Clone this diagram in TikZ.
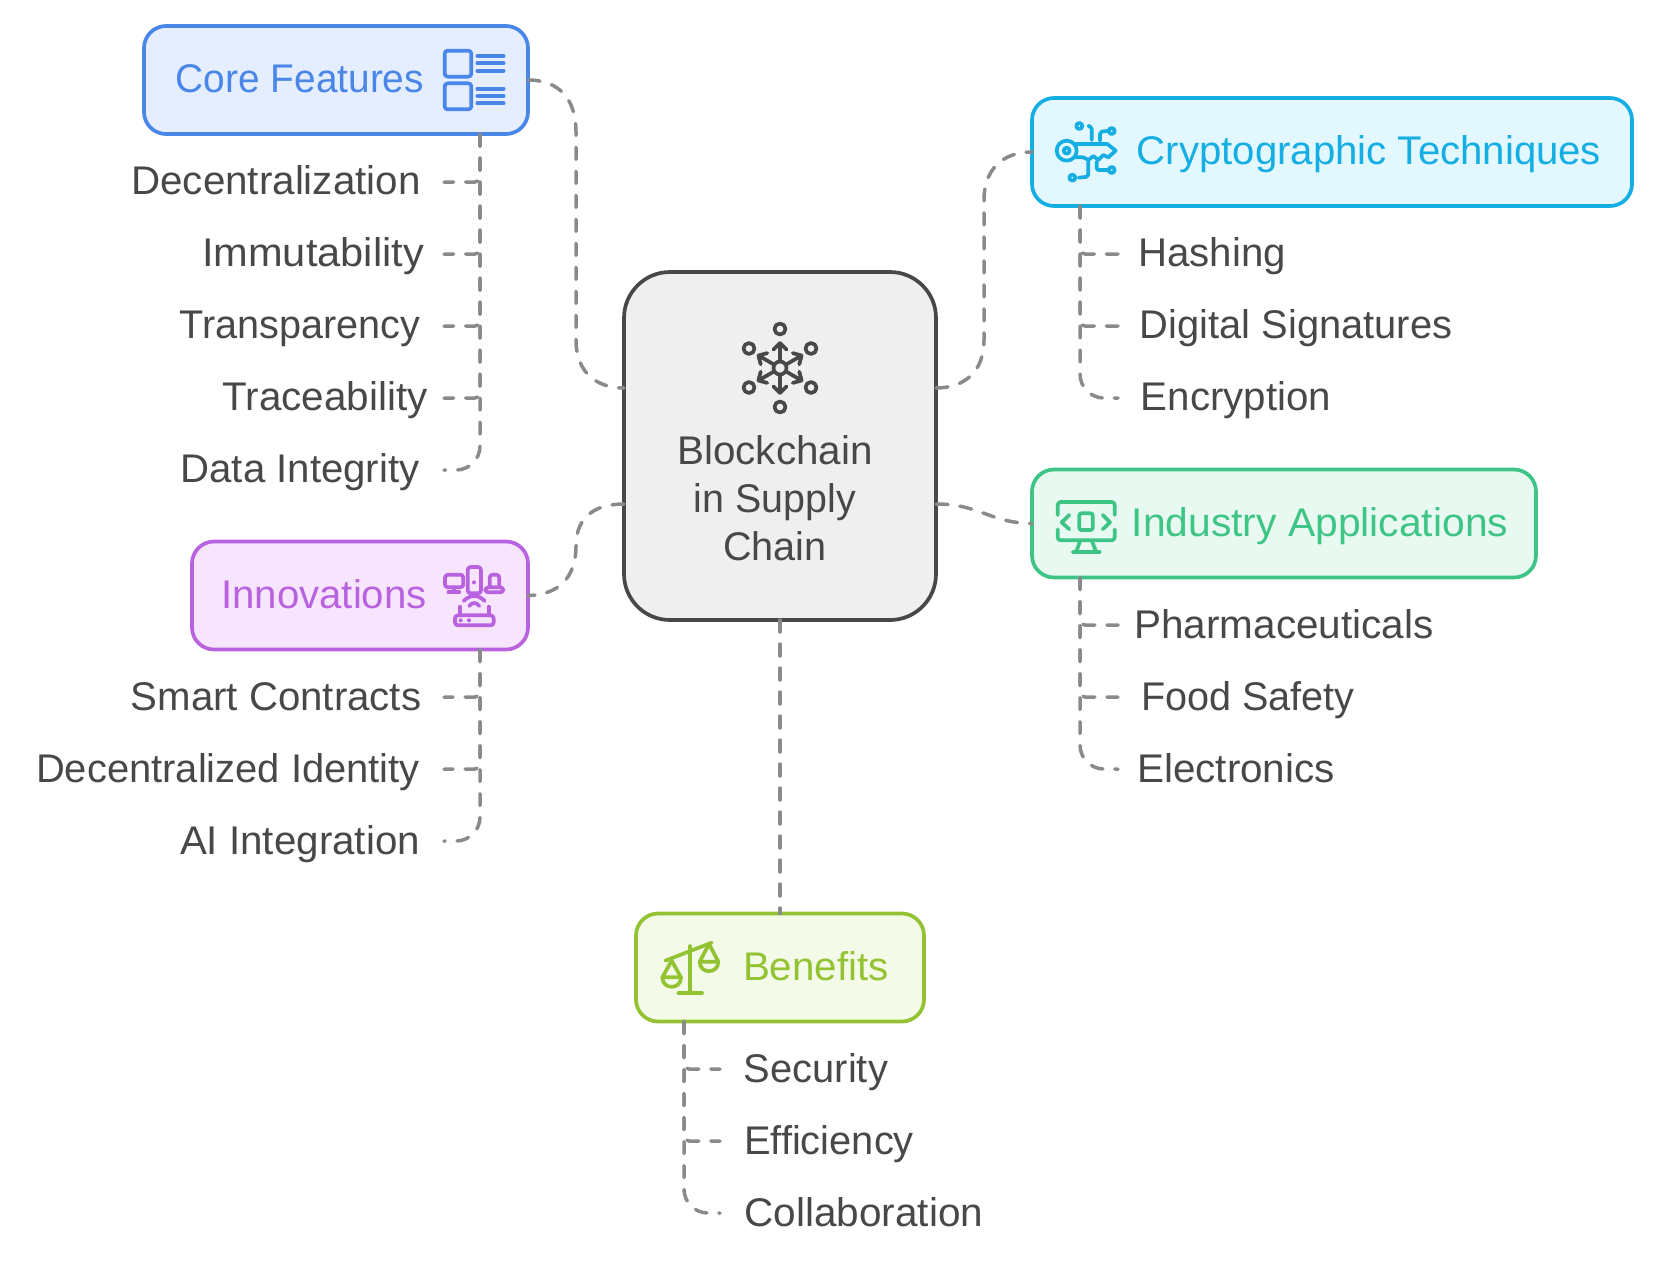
\documentclass[tikz,border=0pt]{standalone}
\usepackage{fontspec}
\setmainfont[FakeStretch=0.99]{Liberation Sans}
\usetikzlibrary{calc}
\definecolor{inkc}{HTML}{484848}
\definecolor{linec}{HTML}{8A8A8A}
\definecolor{centerfill}{HTML}{EFEFEF}
\definecolor{bluec}{HTML}{4A86E8}
\definecolor{bluef}{HTML}{E4EEFF}
\definecolor{cyanc}{HTML}{15AEE2}
\definecolor{cyanf}{HTML}{E3F7FF}
\definecolor{greenc}{HTML}{3EC585}
\definecolor{greenf}{HTML}{E8F9F1}
\definecolor{purplec}{HTML}{B862E0}
\definecolor{purplef}{HTML}{F7E5FD}
\definecolor{limec}{HTML}{93C332}
\definecolor{limef}{HTML}{F3FAE8}
\tikzset{
  x=1pt,y=-1pt,
  box/.style n args={4}{draw=#1,fill=#2,line width=3.7pt,rounded corners=22pt,
    minimum width=#3,minimum height=#4,inner sep=0pt,outer sep=0pt},
  conn/.style={draw=linec,line width=3.5pt,line cap=round,dash pattern=on 12pt off 12pt},
  branch/.style={conn,rounded corners=5pt},
  lastbranch/.style={conn,rounded corners=24pt},
  leaf/.style={font=\fontsize{40}{48}\selectfont,text=inkc,anchor=base,inner sep=0pt,xscale=#1,transform shape},
  leaf/.default=1,
  title/.style 2 args={font=\fontsize{40}{48}\selectfont,text=#1,anchor=base,inner sep=0pt,xscale=#2,transform shape},
  ico/.style={draw=#1,line width=3.7pt,line cap=round,line join=round},
  zoomed/.style 2 args={shift={(#1,#2)},x=0.33333pt,y=-0.33333pt}
}
\begin{document}
\begin{tikzpicture}
\useasboundingbox (0,0) rectangle (1658,1262);

% ---------- boxes
\node[box={inkc}{centerfill}{312pt}{348pt},rounded corners=46pt] (hub) at (780,446) {};
\node[box={bluec}{bluef}{384pt}{108pt}] (core) at (336,80) {};
\node[box={cyanc}{cyanf}{600pt}{108pt}] (crypto) at (1332,152) {};
\node[box={greenc}{greenf}{504pt}{108pt}] (industry) at (1284,523.5) {};
\node[box={purplec}{purplef}{336pt}{108pt}] (innov) at (360,595.5) {};
\node[box={limec}{limef}{288pt}{108pt}] (benefits) at (780,967.5) {};

% ---------- hub text
\node[leaf=1.02,anchor=base] (hub1) at (775,464) {Blockchain};
\node[leaf=0.995,anchor=base] (hub2) at (775,512) {in Supply};
\node[leaf,anchor=base] (hub3) at (775,560) {Chain};

% ---------- titles
\node[title={bluec}{0.98}] (tcore) at (300,92) {Core Features};
\node[title={cyanc}{1.014}] (tcrypto) at (1369,164) {Cryptographic Techniques};
\node[title={greenc}{1.03}] (tindustry) at (1320,536) {Industry Applications};
\node[title={purplec}{1.015}] (tinnov) at (324,608) {Innovations};
\node[title={limec}{1.02}] (tbenefits) at (816,980) {Benefits};

% ---------- leaves
\node[leaf=1.019] (l1) at (276,194) {Decentralization};
\node[leaf=1.05] (l2) at (313,266) {Immutability};
\node[leaf=1.0] (l3) at (300,338) {Transparency};
\node[leaf=1.02] (l4) at (325,410) {Traceability};
\node[leaf=1.014] (l5) at (300,482) {Data Integrity};
\node[leaf=1.015] (i1) at (276,710) {Smart Contracts};
\node[leaf=1.008] (i2) at (228,782) {Decentralized Identity};
\node[leaf=1.018] (i3) at (300,854) {AI Integration};
\node[leaf=1.015] (c1) at (1212,266) {Hashing};
\node[leaf=1.007] (c2) at (1296,338) {Digital Signatures};
\node[leaf=1.017] (c3) at (1236,410) {Encryption};
\node[leaf=1.022] (d1) at (1284,638) {Pharmaceuticals};
\node[leaf=1.0] (d2) at (1248,710) {Food Safety};
\node[leaf=1.02] (d3) at (1236,782) {Electronics};
\node[leaf=1.007] (b1) at (816,1082) {Security};
\node[leaf=1.006] (b2) at (829,1154) {Efficiency};
\node[leaf=1.023] (b3) at (864,1226) {Collaboration};

% ---------- connector ends
\coordinate (hubW1) at (624,388);
\coordinate (hubW2) at (624,504);
\coordinate (hubE1) at (936,388);
\coordinate (hubE2) at (936,504);
\coordinate (coreV) at (480,0);
\coordinate (innovV) at (480,0);
\coordinate (cryptoV) at (1080,0);
\coordinate (industryV) at (1080,0);
\coordinate (benefitsV) at (684,0);
\foreach \n/\y in {e1/182,e2/254,e3/326,e4/398,e5/470,e6/697,e7/769,e8/841}{\coordinate (\n) at (444,\y);}
\foreach \n/\y in {f1/254,f2/326,f3/398,f4/625,f5/697,f6/769}{\coordinate (\n) at (1118,\y);}
\foreach \n/\y in {g1/1069,g2/1141,g3/1213}{\coordinate (\n) at (720,\y);}

% ---------- main connectors
\draw[conn] (core.east) .. controls (560,80) and (576,100) .. (576,132) -- (576,340) .. controls (576,372) and (596,388) .. (hubW1);
\draw[conn] (hubE1) .. controls (964,388) and (984,372) .. (984,340) -- (984,200) .. controls (984,170) and (1002,152) .. (crypto.west);
\draw[conn] (hubE2) .. controls (980,504) and (990,523) .. (industry.west);
\draw[conn] (hubW2) .. controls (596,504) and (576,516) .. (576,546) .. controls (576,578) and (558,595) .. (innov.east);
\draw[conn] (hub.south) -- (benefits.north);

% ---------- branches
\draw[branch] (core.south -| coreV) |- (e1);
\draw[branch] (core.south -| coreV) |- (e2);
\draw[branch] (core.south -| coreV) |- (e3);
\draw[branch] (core.south -| coreV) |- (e4);
\draw[lastbranch] (core.south -| coreV) |- (e5);
\draw[branch] (innov.south -| innovV) |- (e6);
\draw[branch] (innov.south -| innovV) |- (e7);
\draw[lastbranch] (innov.south -| innovV) |- (e8);
\draw[branch] (crypto.south -| cryptoV) |- (f1);
\draw[branch] (crypto.south -| cryptoV) |- (f2);
\draw[lastbranch] (crypto.south -| cryptoV) |- (f3);
\draw[branch] (industry.south -| industryV) |- (f4);
\draw[branch] (industry.south -| industryV) |- (f5);
\draw[lastbranch] (industry.south -| industryV) |- (f6);
\draw[branch] (benefits.south -| benefitsV) |- (g1);
\draw[branch] (benefits.south -| benefitsV) |- (g2);
\draw[lastbranch] (benefits.south -| benefitsV) |- (g3);

% ---------- core icon
\begin{scope}[zoomed={120}{0},ico=bluec]
  \draw[rounded corners=3pt] (974,152) rectangle (1054,230);
  \draw[rounded corners=3pt] (974,250) rectangle (1054,328);
  \foreach \y in {168,190,212,266,288,310}{\draw (1072,\y) -- (1151,\y);}
\end{scope}

% ---------- hub icon
\begin{scope}[shift={(780,368)},ico=inkc]
  \draw (0,0) circle[radius=6.5];
  \foreach \a in {90,150,210,270,330,30}{
    \draw[rotate=\a,y=1pt] (6.5,0) -- (25,0) (18.5,6.5) -- (25,0) -- (18.5,-6.5);
  }
  \foreach \p/\q in {0/39,0/-39,31/19.5,31/-19.5,-31/19.5,-31/-19.5}{
    \draw (\p,\q) circle[radius=5.5];
  }
\end{scope}

% ---------- crypto icon
\begin{scope}[zoomed={1020}{80},ico=cyanc]
  \draw (140,212) circle[radius=30];
  \draw (140,212) circle[radius=9];
  \draw (165,192) -- (262,192) -- (287,212) -- (265,232) -- (250,225) -- (235,240) -- (220,228) -- (205,240) -- (190,232) -- (168,232);
  \draw (178,138) circle[radius=9];
  \draw[rounded corners=2pt] (205,138) -- (215,140) -- (215,180);
  \draw[rounded corners=2pt] (240,182) -- (240,155) -- (262,153);
  \draw (275,153) circle[radius=9];
  \draw[rounded corners=2pt] (205,245) -- (205,290) -- (176,293);
  \draw (157,293) circle[radius=9];
  \draw[rounded corners=2pt] (230,245) -- (230,270) -- (262,270);
  \draw (275,270) circle[radius=9];
\end{scope}

% ---------- industry icon
\begin{scope}[zoomed={1020}{460},ico=greenc]
  \draw[rounded corners=3pt] (113,165) -- (113,126) -- (284,126) -- (284,165);
  \draw[rounded corners=3pt] (113,208) -- (113,241) -- (284,241) -- (284,208);
  \draw (180,243) -- (169,275) (216,243) -- (228,275) (158,276) -- (240,276);
  \draw[rounded corners=2pt] (178,160) rectangle (218,210);
  \draw (148,165) -- (125,187) -- (148,208);
  \draw (248,165) -- (270,187) -- (248,208);
\end{scope}

% ---------- innovations icon
\begin{scope}[zoomed={180}{530},ico=purplec]
  \draw[rounded corners=3pt] (795,134) rectangle (850,172);
  \draw (822,172) -- (822,186) (805,187) -- (838,187);
  \draw[rounded corners=3pt] (863,111) rectangle (903,190);
  \fill[purplec] (882,157) circle[radius=6];
  \draw[rounded corners=3pt] (929,170) -- (929,134) -- (958,134) -- (958,170);
  \draw[rounded corners=3pt] (916,172) rectangle (970,187);
  \draw (851,213) .. controls (870,193) and (895,193) .. (914,213);
  \draw (868,228) .. controls (875,216) and (890,216) .. (898,228);
  \draw[rounded corners=3pt] (825,256) rectangle (941,286);
  \draw (840,256) -- (840,230) (926,256) -- (926,230);
  \fill[purplec] (842,271) circle[radius=6] (867,271) circle[radius=6];
\end{scope}

% ---------- benefits icon
\begin{scope}[zoomed={630}{900},ico=limec]
  \draw (106,182) -- (245,128);
  \draw (180,138) -- (180,278) (145,279) -- (216,279);
  \draw (97,232) -- (125,182) -- (153,232) -- cycle;
  \draw (97,232) .. controls (97,270) and (153,270) .. (153,232);
  \draw (209,185) -- (237,132) -- (265,185) -- cycle;
  \draw (209,185) .. controls (209,223) and (265,223) .. (265,185);
\end{scope}
\end{tikzpicture}
\end{document}
